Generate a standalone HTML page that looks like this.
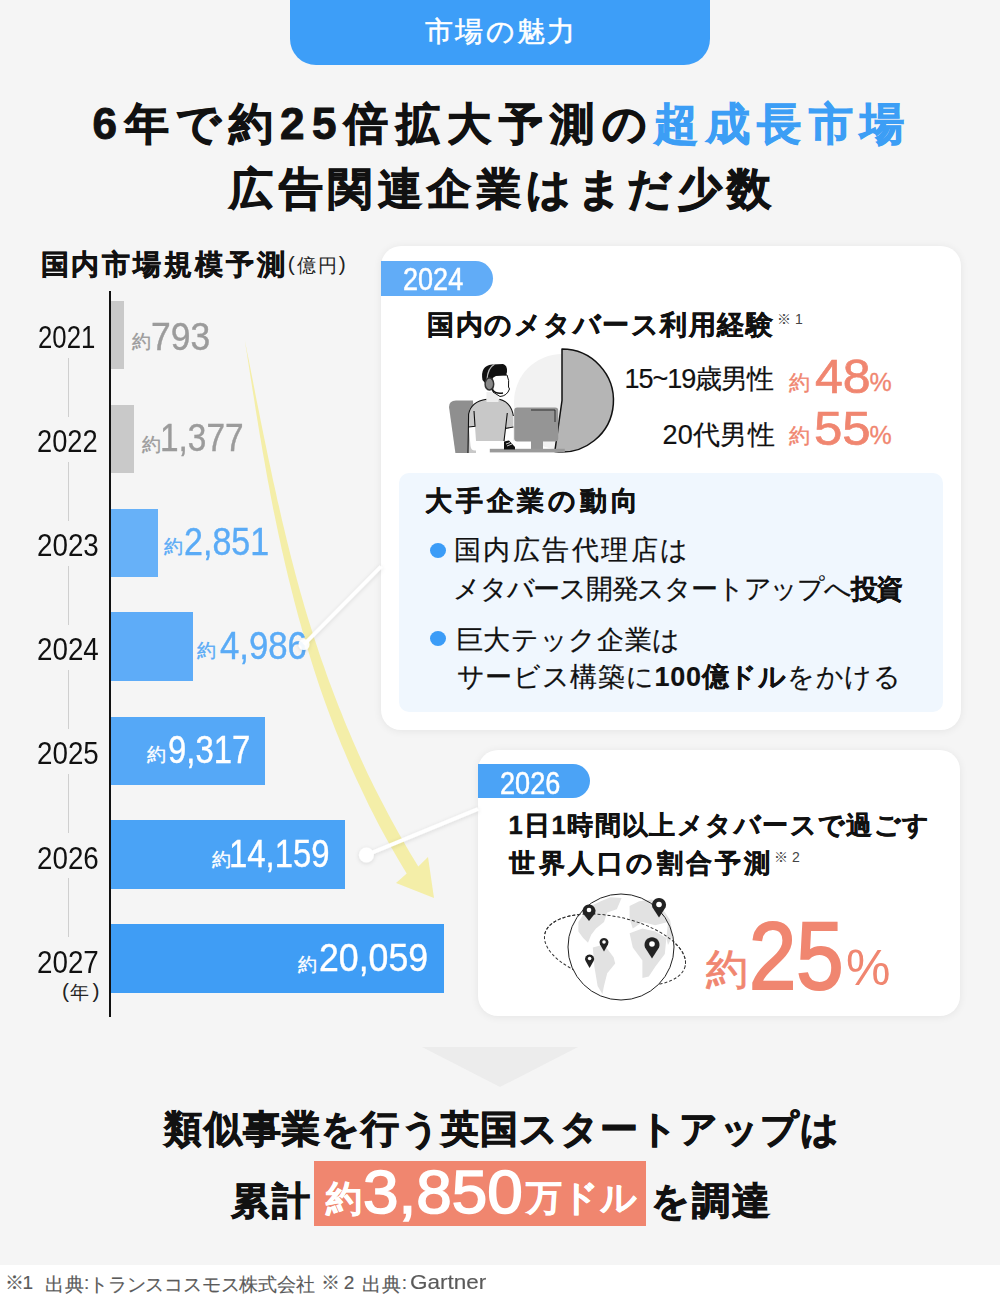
<!DOCTYPE html>
<html lang="ja">
<head>
<meta charset="utf-8">
<style>
*{margin:0;padding:0;box-sizing:border-box}
html,body{width:1000px;height:1300px;overflow:hidden;background:#f5f5f5;font-family:"Liberation Sans",sans-serif;color:#111}
.a{position:absolute;white-space:nowrap}
</style>
</head>
<body>
<div class="a" style="left:290px;top:-30px;width:420px;height:95px;border-radius:26px;background:#3d9ef8"></div>
<div class="a" style="left:109px;top:291px;width:2px;height:726px;background:#111"></div>
<div class="a" style="left:68px;top:358px;width:1px;height:59px;background:#cfcfcf"></div>
<div class="a" style="left:68px;top:462px;width:1px;height:59px;background:#cfcfcf"></div>
<div class="a" style="left:68px;top:566px;width:1px;height:59px;background:#cfcfcf"></div>
<div class="a" style="left:68px;top:670px;width:1px;height:59px;background:#cfcfcf"></div>
<div class="a" style="left:68px;top:774px;width:1px;height:59px;background:#cfcfcf"></div>
<div class="a" style="left:68px;top:878px;width:1px;height:59px;background:#cfcfcf"></div>
<div class="a" style="left:111px;top:301px;width:13px;height:68px;background:#c9c9c9"></div>
<div class="a" style="left:111px;top:405px;width:23px;height:68px;background:#c9c9c9"></div>
<div class="a" style="left:111px;top:509px;width:47px;height:68px;background:#67b1f8"></div>
<div class="a" style="left:111px;top:612px;width:82px;height:69px;background:#5eacf8"></div>
<div class="a" style="left:111px;top:717px;width:154px;height:68px;background:#55a8f7"></div>
<div class="a" style="left:111px;top:820px;width:234px;height:69px;background:#4aa3f6"></div>
<div class="a" style="left:111px;top:924px;width:333px;height:69px;background:#3f9df5"></div>
<svg class="a" style="left:0;top:0" width="1000" height="1300" viewBox="0 0 1000 1300">
  <path d="M244.8 340.0 L245.8 346.7 L246.9 353.5 L247.9 360.2 L249.0 366.9 L250.0 373.7 L251.1 380.4 L252.1 387.1 L253.2 393.9 L254.3 400.6 L255.3 407.3 L256.4 414.1 L257.5 420.8 L258.6 427.5 L259.7 434.3 L260.9 441.0 L262.0 447.7 L263.2 454.5 L264.4 461.2 L265.6 467.9 L266.8 474.7 L268.0 481.4 L269.3 488.1 L270.5 494.9 L271.8 501.6 L273.1 508.4 L274.5 515.1 L275.9 521.8 L277.3 528.6 L278.7 535.3 L280.2 542.1 L281.6 548.8 L283.2 555.5 L284.7 562.3 L286.3 569.0 L287.9 575.8 L289.6 582.5 L291.3 589.3 L293.0 596.0 L294.7 602.8 L296.5 609.5 L298.3 616.3 L300.2 623.0 L302.1 629.8 L304.0 636.5 L306.0 643.3 L308.0 650.1 L310.0 656.8 L312.1 663.6 L314.3 670.4 L316.5 677.2 L318.7 683.9 L321.0 690.7 L323.4 697.5 L325.8 704.2 L328.3 711.0 L330.8 717.8 L333.4 724.6 L336.0 731.3 L338.8 738.1 L341.5 744.9 L344.4 751.6 L347.3 758.4 L350.2 765.2 L353.2 771.9 L356.3 778.7 L359.5 785.5 L362.7 792.3 L365.9 799.1 L369.2 805.9 L372.6 812.6 L376.1 819.4 L379.6 826.2 L383.3 833.0 L387.0 839.7 L390.8 846.5 L394.7 853.3 L398.6 860.0 L402.6 866.8 L406.7 873.5 L396.0 883.0 L434.0 898.0 L428.0 857.0 L418.3 866.5 L414.2 859.8 L410.2 853.2 L406.3 846.5 L402.5 839.8 L398.7 833.2 L395.0 826.5 L391.4 819.9 L387.8 813.2 L384.3 806.6 L380.9 800.0 L377.4 793.3 L374.1 786.7 L370.8 780.1 L367.6 773.4 L364.5 766.8 L361.4 760.1 L358.4 753.5 L355.5 746.8 L352.6 740.2 L349.8 733.5 L347.0 726.9 L344.2 720.3 L341.6 713.6 L338.9 707.0 L336.3 700.3 L333.8 693.7 L331.3 687.0 L328.8 680.4 L326.4 673.7 L324.1 667.1 L321.7 660.4 L319.4 653.8 L317.2 647.1 L315.0 640.5 L312.9 633.8 L310.8 627.2 L308.7 620.5 L306.7 613.9 L304.7 607.2 L302.8 600.5 L300.9 593.9 L299.0 587.2 L297.2 580.5 L295.4 573.9 L293.7 567.2 L291.9 560.5 L290.2 553.8 L288.6 547.2 L286.9 540.5 L285.3 533.8 L283.7 527.1 L282.1 520.4 L280.6 513.8 L279.1 507.1 L277.5 500.4 L276.1 493.7 L274.6 487.1 L273.1 480.4 L271.7 473.7 L270.3 467.0 L268.8 460.3 L267.4 453.6 L266.1 447.0 L264.7 440.3 L263.3 433.6 L262.0 426.9 L260.6 420.2 L259.3 413.5 L258.0 406.9 L256.6 400.2 L255.3 393.5 L254.0 386.8 L252.7 380.1 L251.4 373.4 L250.1 366.7 L248.8 360.1 L247.4 353.4 L246.1 346.7 L244.8 340.0 Z" fill="#f4eea8"/>
</svg>
<div class="a" style="left:381px;top:246px;width:580px;height:484px;background:#fff;border-radius:20px;box-shadow:0 1px 8px rgba(0,0,0,.07)"></div>
<div class="a" style="left:381px;top:261px;width:112px;height:35px;background:#61acf7;border-radius:0 17.5px 17.5px 0"></div>
<svg class="a" style="left:440px;top:340px" width="180" height="120" viewBox="0 0 180 120">
  <circle cx="122" cy="62" r="48" fill="#f2f2f2"/>
  <path d="M122 60.5 L122 9 A51.5 51.5 0 1 1 114.8 111.5 Z" fill="#b5b5b5" stroke="#111" stroke-width="1.5" stroke-linejoin="round"/>
  <path d="M9 67 Q9 60.5 16 60.5 L33 60.5 L36 113 L15.4 113 Z" fill="#8f8f8f"/>
  <path d="M28 113 L28.6 72 Q31 61.5 46.6 59.2 L59.4 59.2 Q71 62 73.4 76 L73.4 101 L36 101 L36 113 Z" fill="#c8c8c8"/>
  <path d="M28.8 87 L35 86.3 L36 101 L73.5 101 L75 109.5 L35 110.5 Q31 110.5 30.5 106 Z" fill="#fff"/>
  <path d="M65 88.5 L73.4 87 L73.4 101 L64.5 101 Z" fill="#fff"/>
  <path d="M28 113 L28.6 74 Q31 61.5 46.6 59.2 M59.4 59.2 Q71 62 73.4 76 M28.6 87 L35 86.3 L34 71 M73.4 87 L65.5 88.5 L64 101 M67.3 73 L65.5 88.5" fill="none" stroke="#111" stroke-width="1.1"/>
  <rect x="46.5" y="52" width="12" height="10" fill="#eee"/>
  <path d="M52 37 Q53 33 59 34 L67 35 Q69.5 40 68.5 47 L69.5 49 Q67 56 60 56.5 L53 52 Z" fill="#fff" stroke="#111" stroke-width="1"/>
  <path d="M42.5 40 Q40 25.5 52 24.4 L63 24 Q67.5 25 67 32 L66 35.5 L56 36 Q52 37.5 51 41 L45 43 Z" fill="#111"/>
  <path d="M47 40 Q47.5 28 54.5 24.2" fill="none" stroke="#bbb" stroke-width="1.3"/>
  <ellipse cx="49.4" cy="44" rx="4.3" ry="6" fill="#888" stroke="#333" stroke-width="1.5"/>
  <path d="M52 49.5 Q56 54.5 63 53" fill="none" stroke="#111" stroke-width="1.5"/>
  <rect x="74.2" y="67.6" width="44" height="34" rx="3" fill="#959595"/>
  <path d="M91 70 L115 70 L115 82" fill="none" stroke="#222" stroke-width="0.9"/>
  <rect x="91" y="101" width="12" height="8" fill="#959595"/>
  <rect x="49.8" y="108.8" width="75" height="3.6" fill="#9a9a9a"/>
  <path d="M64 101.5 L69 100.5 L75 107 L75 109.5 L64 109.5 Z" fill="#111"/>
  <path d="M66 104 L70 102.5 M67 106 L72 104" stroke="#fff" stroke-width="0.8"/>
</svg>
<div class="a" style="left:399px;top:473px;width:544px;height:239px;background:#f0f7fe;border-radius:10px"></div>
<div class="a" style="left:430px;top:542.5px;width:16px;height:15px;border-radius:50%;background:#3b9cf7"></div>
<div class="a" style="left:430px;top:631px;width:16px;height:15px;border-radius:50%;background:#3b9cf7"></div>
<div class="a" style="left:478px;top:750px;width:482px;height:266px;background:#fff;border-radius:20px;box-shadow:0 1px 8px rgba(0,0,0,.07)"></div>
<div class="a" style="left:478px;top:764px;width:112px;height:34px;background:#4ba3f6;border-radius:0 17px 17px 0"></div>
<svg class="a" style="left:540px;top:890px" width="160" height="120" viewBox="0 0 160 120">
  <ellipse cx="75" cy="60" rx="72" ry="33" transform="rotate(13 75 60)" fill="none" stroke="#333" stroke-width="1" stroke-dasharray="3 2"/>
  <circle cx="81" cy="57" r="53" fill="#fff"/>
  <g fill="#e2e2e2">
    <path d="M38.4 32 L48 17.6 L60.8 11.2 L70.4 7.2 L81.6 8 L76.8 19.2 L67.2 22.4 L64 32 L56 38.4 L51.2 44.8 L48 52.8 L43.2 48 L38.4 41.6 Z"/>
    <path d="M52.8 57.6 L64 54.4 L73.6 67.2 L75.2 73.6 L67.2 83.2 L64 96 L62.4 104 L57.6 96 L54.4 76.8 Z"/>
    <path d="M89.6 16 L99.2 11.2 L112 9.6 L121.6 17.6 L128 32 L115.2 35.2 L102.4 32 L92.8 38.4 L89.6 28.8 Z"/>
    <path d="M89.6 43.2 L102.4 38.4 L115.2 41.6 L126.4 48 L124.8 64 L115.2 76.8 L108.8 86.4 L102.4 88 L102.4 70.4 L92.8 57.6 Z"/>
    <path d="M121.6 17.6 L130 30 L133 45 L128 55 L126.4 48 L128 32 Z"/>
  </g>
  <circle cx="81" cy="57" r="53" fill="none" stroke="#222" stroke-width="1"/>
  <path d="M3 60 A72 33 0 0 1 147 60" transform="rotate(13 75 60)" fill="none" stroke="#333" stroke-width="1" stroke-dasharray="3 2"/>
  <g fill="#222">
    <path d="M49 31 L43 23.5 A6.5 6.5 0 1 1 55 23.5 Z"/><circle cx="49" cy="20" r="2.3" fill="#fff"/>
    <path d="M119 27.5 L112.5 17.5 A7 7 0 1 1 125.5 17.5 Z"/><circle cx="119" cy="14.5" r="2.8" fill="#fff"/>
    <path d="M64 61.5 L60 54.5 A4.5 4.5 0 1 1 68 54.5 Z"/><circle cx="64" cy="52" r="1.8" fill="#fff"/>
    <path d="M49.6 78 L45.6 71 A4.5 4.5 0 1 1 53.6 71 Z"/><circle cx="49.6" cy="68.5" r="1.8" fill="#fff"/>
    <path d="M112 68.5 L105 57.5 A7.5 7.5 0 1 1 119 57.5 Z"/><circle cx="112" cy="54" r="2.8" fill="#fff"/>
  </g>
</svg>
<svg class="a" style="left:0;top:0" width="1000" height="1300"><polygon points="422,1047 578,1047 500,1087" fill="#ececec"/></svg>
<div class="a" style="left:314px;top:1161px;width:332px;height:65px;background:#f0866f"></div>
<div class="a" style="left:0;top:1265px;width:1000px;height:35px;background:#fff"></div>

<div class="a" style="left:425.3px;top:14.2px;font-size:28px;line-height:35px;-webkit-text-stroke:0.5px #fff;color:#fff;letter-spacing:2.17px">市場の魅力</div>
<div class="a" style="left:92.5px;top:96.0px;font-size:44px;line-height:55px;font-weight:bold;-webkit-text-stroke:1.0px #111;color:#111;letter-spacing:7.53px">6年で約25倍拡大予測の<span style="color:#3c9ef5;-webkit-text-stroke-color:#3c9ef5">超成長市場</span></div>
<div class="a" style="left:229.0px;top:161.0px;font-size:44px;line-height:55px;font-weight:bold;-webkit-text-stroke:1.0px #111;color:#111;letter-spacing:5.50px">広告関連企業はまだ少数</div>
<div class="a" style="left:40.5px;top:247.5px;font-size:27.5px;line-height:34px;font-weight:bold;-webkit-text-stroke:0.5px #111;color:#111;letter-spacing:2.93px">国内市場規模予測</div>
<div class="a" style="left:287.7px;top:251.0px;font-size:21px;line-height:26px;color:#222">(</div>
<div class="a" style="left:338.8px;top:251.0px;font-size:21px;line-height:26px;color:#222">)</div>
<div class="a" style="left:296.8px;top:254.3px;font-size:19px;line-height:24px;color:#222;letter-spacing:2.50px">億円</div>
<div class="a" style="left:37.5px;top:318.1px;font-size:31px;line-height:39px;color:#111;transform:scaleX(0.8303);transform-origin:0 0">2021</div>
<div class="a" style="left:37.2px;top:422.0px;font-size:31px;line-height:39px;color:#111;transform:scaleX(0.8788);transform-origin:0 0">2022</div>
<div class="a" style="left:36.6px;top:526.0px;font-size:31px;line-height:39px;color:#111;transform:scaleX(0.8955);transform-origin:0 0">2023</div>
<div class="a" style="left:36.6px;top:630.0px;font-size:31px;line-height:39px;color:#111;transform:scaleX(0.8955);transform-origin:0 0">2024</div>
<div class="a" style="left:36.6px;top:734.0px;font-size:31px;line-height:39px;color:#111;transform:scaleX(0.8955);transform-origin:0 0">2025</div>
<div class="a" style="left:36.6px;top:838.5px;font-size:31px;line-height:39px;color:#111;transform:scaleX(0.8955);transform-origin:0 0">2026</div>
<div class="a" style="left:36.6px;top:943.0px;font-size:31px;line-height:39px;color:#111;transform:scaleX(0.8955);transform-origin:0 0">2027</div>
<div class="a" style="left:61.9px;top:978.1px;font-size:21px;line-height:26px;color:#222">(</div>
<div class="a" style="left:92.6px;top:978.1px;font-size:21px;line-height:26px;color:#222">)</div>
<div class="a" style="left:70.3px;top:980.7px;font-size:19px;line-height:24px;color:#222">年</div>
<div class="a" style="left:132.3px;top:329.5px;font-size:19px;line-height:24px;-webkit-text-stroke:0.35px #9b9b9b;color:#9b9b9b">約</div>
<div class="a" style="left:141.6px;top:433.0px;font-size:19px;line-height:24px;-webkit-text-stroke:0.35px #9b9b9b;color:#9b9b9b">約</div>
<div class="a" style="left:163.6px;top:535.0px;font-size:19px;line-height:24px;-webkit-text-stroke:0.35px #5aabf6;color:#5aabf6">約</div>
<div class="a" style="left:197.4px;top:639.4px;font-size:19px;line-height:24px;-webkit-text-stroke:0.35px #5aabf6;color:#5aabf6">約</div>
<div class="a" style="left:146.8px;top:743.0px;font-size:19px;line-height:24px;-webkit-text-stroke:0.35px #fff;color:#fff">約</div>
<div class="a" style="left:212.0px;top:847.5px;font-size:19px;line-height:24px;-webkit-text-stroke:0.35px #fff;color:#fff">約</div>
<div class="a" style="left:297.7px;top:952.6px;font-size:19px;line-height:24px;-webkit-text-stroke:0.35px #fff;color:#fff">約</div>
<div class="a" style="left:151.1px;top:312.6px;font-size:38px;line-height:48px;-webkit-text-stroke:0.4px #9b9b9b;color:#9b9b9b;transform:scaleX(0.9333);transform-origin:0 0">793</div>
<div class="a" style="left:160.4px;top:414.4px;font-size:38px;line-height:48px;-webkit-text-stroke:0.4px #9b9b9b;color:#9b9b9b;transform:scaleX(0.8791);transform-origin:0 0">1,377</div>
<div class="a" style="left:184.2px;top:518.0px;font-size:38px;line-height:48px;-webkit-text-stroke:0.4px #5aabf6;color:#5aabf6;transform:scaleX(0.8957);transform-origin:0 0">2,851</div>
<div class="a" style="left:220.1px;top:622.4px;font-size:38px;line-height:48px;-webkit-text-stroke:0.4px #5aabf6;color:#5aabf6;transform:scaleX(0.9140);transform-origin:0 0">4,986</div>
<div class="a" style="left:168.0px;top:725.7px;font-size:38px;line-height:48px;-webkit-text-stroke:0.4px #fff;color:#fff;transform:scaleX(0.8641);transform-origin:0 0">9,317</div>
<div class="a" style="left:229.2px;top:830.0px;font-size:38px;line-height:48px;-webkit-text-stroke:0.4px #fff;color:#fff;transform:scaleX(0.8652);transform-origin:0 0">14,159</div>
<div class="a" style="left:319.3px;top:934.0px;font-size:38px;line-height:48px;-webkit-text-stroke:0.4px #fff;color:#fff;transform:scaleX(0.9389);transform-origin:0 0">20,059</div>
<div class="a" style="left:402.8px;top:259.0px;font-size:32px;line-height:40px;-webkit-text-stroke:0.5px #fff;color:#fff;transform:scaleX(0.8457);transform-origin:0 0">2024</div>
<div class="a" style="left:427.0px;top:309.0px;font-size:26.5px;line-height:33px;font-weight:bold;-webkit-text-stroke:0.4px #111;color:#111;letter-spacing:1.55px">国内のメタバース利用経験</div>
<div class="a" style="left:777.0px;top:310.0px;font-size:14px;line-height:18px;color:#444">※</div>
<div class="a" style="left:795.0px;top:310.0px;font-size:14px;line-height:18px;color:#444">1</div>
<div class="a" style="left:624.5px;top:362.0px;font-size:27px;line-height:34px;-webkit-text-stroke:0.2px #111;color:#111;letter-spacing:-1.00px">15~19歳男性</div>
<div class="a" style="left:662.4px;top:417.5px;font-size:27px;line-height:34px;-webkit-text-stroke:0.2px #111;color:#111;letter-spacing:0.28px">20代男性</div>
<div class="a" style="left:789.4px;top:370.0px;font-size:21px;line-height:26px;-webkit-text-stroke:0.4px #f08670;color:#f08670">約</div>
<div class="a" style="left:869.4px;top:367.0px;font-size:25px;line-height:31px;-webkit-text-stroke:0.3px #f08670;color:#f08670">%</div>
<div class="a" style="left:789.4px;top:423.4px;font-size:21px;line-height:26px;-webkit-text-stroke:0.4px #f08670;color:#f08670">約</div>
<div class="a" style="left:869.4px;top:420.4px;font-size:25px;line-height:31px;-webkit-text-stroke:0.3px #f08670;color:#f08670">%</div>
<div class="a" style="left:815.4px;top:345.6px;font-size:49px;line-height:61px;-webkit-text-stroke:0.7px #f08670;color:#f08670;transform:scaleX(1.0212);transform-origin:0 0">48</div>
<div class="a" style="left:814.3px;top:398.0px;font-size:49px;line-height:61px;-webkit-text-stroke:0.7px #f08670;color:#f08670;transform:scaleX(1.0412);transform-origin:0 0">55</div>
<div class="a" style="left:425.0px;top:484.5px;font-size:26.5px;line-height:33px;font-weight:bold;-webkit-text-stroke:0.4px #111;color:#111;letter-spacing:3.83px">大手企業の動向</div>
<div class="a" style="left:454.0px;top:533.0px;font-size:27px;line-height:34px;-webkit-text-stroke:0.2px #111;color:#111;letter-spacing:2.43px">国内広告代理店は</div>
<div class="a" style="left:453.0px;top:572.0px;font-size:27px;line-height:34px;-webkit-text-stroke:0.2px #111;color:#111;letter-spacing:-1.22px">メタバース開発スタートアップへ<b style="-webkit-text-stroke:0.15px #111">投資</b></div>
<div class="a" style="left:455.5px;top:622.5px;font-size:27px;line-height:34px;-webkit-text-stroke:0.2px #111;color:#111;letter-spacing:0.71px">巨大テック企業は</div>
<div class="a" style="left:456.5px;top:659.5px;font-size:27px;line-height:34px;-webkit-text-stroke:0.2px #111;color:#111;letter-spacing:0.71px">サービス構築に<b style="-webkit-text-stroke:0.15px #111">100億ドル</b>をかける</div>
<div class="a" style="left:500.2px;top:762.5px;font-size:32px;line-height:40px;-webkit-text-stroke:0.5px #fff;color:#fff;transform:scaleX(0.8464);transform-origin:0 0">2026</div>
<div class="a" style="left:508.4px;top:809.0px;font-size:25.5px;line-height:32px;font-weight:bold;-webkit-text-stroke:0.4px #111;color:#111;letter-spacing:1.44px">1日1時間以上メタバースで過ごす</div>
<div class="a" style="left:509.4px;top:847.0px;font-size:25.5px;line-height:32px;font-weight:bold;-webkit-text-stroke:0.4px #111;color:#111;letter-spacing:3.26px">世界人口の割合予測</div>
<div class="a" style="left:774.0px;top:848.0px;font-size:14px;line-height:18px;color:#444">※</div>
<div class="a" style="left:792.0px;top:848.0px;font-size:14px;line-height:18px;color:#444">2</div>
<div class="a" style="left:706.4px;top:944.0px;font-size:42px;line-height:52px;-webkit-text-stroke:0.8px #f08670;color:#f08670">約</div>
<div class="a" style="left:749.1px;top:896.4px;font-size:96px;line-height:120px;-webkit-text-stroke:2.2px #f08670;color:#f08670;transform:scaleX(0.8860);transform-origin:0 0">25</div>
<div class="a" style="left:846.0px;top:937.0px;font-size:50px;line-height:62px;color:#f08670">%</div>
<div class="a" style="left:164.3px;top:1104.8px;font-size:38px;line-height:48px;font-weight:bold;-webkit-text-stroke:0.9px #111;color:#111;letter-spacing:1.23px">類似事業を行う英国スタートアップは</div>
<div class="a" style="left:230.5px;top:1176.5px;font-size:38px;line-height:48px;font-weight:bold;-webkit-text-stroke:0.9px #111;color:#111;letter-spacing:3.70px">累計</div>
<div class="a" style="left:651.0px;top:1176.5px;font-size:38px;line-height:48px;font-weight:bold;-webkit-text-stroke:0.9px #111;color:#111;letter-spacing:1.75px">を調達</div>
<div class="a" style="left:325.5px;top:1175.6px;font-size:36px;line-height:45px;font-weight:bold;-webkit-text-stroke:0.5px #fff;color:#fff">約</div>
<div class="a" style="left:362.7px;top:1152.8px;font-size:62px;line-height:78px;-webkit-text-stroke:1.6px #fff;color:#fff;transform:scaleX(1.0303);transform-origin:0 0">3,850</div>
<div class="a" style="left:526.0px;top:1175.4px;font-size:36px;line-height:45px;font-weight:bold;-webkit-text-stroke:0.5px #fff;color:#fff;letter-spacing:0.30px">万ドル</div>
<div class="a" style="left:4.5px;top:1271.0px;font-size:19px;line-height:24px;-webkit-text-stroke:0.15px #5a5a5a;color:#5a5a5a;letter-spacing:-1.00px">※1</div>
<div class="a" style="left:45.0px;top:1273.0px;font-size:19px;line-height:24px;-webkit-text-stroke:0.15px #5a5a5a;color:#5a5a5a;letter-spacing:0.50px">出典</div>
<div class="a" style="left:84.0px;top:1271.0px;font-size:19px;line-height:24px;-webkit-text-stroke:0.15px #5a5a5a;color:#5a5a5a">:</div>
<div class="a" style="left:89.0px;top:1273.0px;font-size:19px;line-height:24px;-webkit-text-stroke:0.15px #5a5a5a;color:#5a5a5a;letter-spacing:-0.20px">トランスコスモス株式会社</div>
<div class="a" style="left:320.8px;top:1271.0px;font-size:19px;line-height:24px;-webkit-text-stroke:0.15px #5a5a5a;color:#5a5a5a;letter-spacing:4.00px">※2</div>
<div class="a" style="left:361.5px;top:1273.0px;font-size:19px;line-height:24px;-webkit-text-stroke:0.15px #5a5a5a;color:#5a5a5a;letter-spacing:1.50px">出典</div>
<div class="a" style="left:401.8px;top:1271.0px;font-size:19px;line-height:24px;-webkit-text-stroke:0.15px #5a5a5a;color:#5a5a5a">:</div>
<div class="a" style="left:410.2px;top:1269.0px;font-size:21px;line-height:26px;-webkit-text-stroke:0.15px #5a5a5a;color:#5a5a5a;transform:scaleX(1.0714);transform-origin:0 0">Gartner</div>
<svg class="a" style="left:0;top:0" width="1000" height="1300" viewBox="0 0 1000 1300">
  <defs><filter id="sh" x="-50%" y="-50%" width="200%" height="200%"><feDropShadow dx="0" dy="1" stdDeviation="2" flood-color="#000" flood-opacity=".12"/></filter></defs>
  <g filter="url(#sh)">
  <line x1="304" y1="644.5" x2="381" y2="566.5" stroke="#fff" stroke-width="3.8"/>
  <circle cx="304" cy="644.5" r="5.5" fill="#fff" fill-opacity=".92"/>
  <line x1="366.4" y1="855" x2="478" y2="809" stroke="#fff" stroke-width="3.8"/>
  <circle cx="366.4" cy="855" r="7.5" fill="#fff"/>
  </g>
</svg>

</body>
</html>
